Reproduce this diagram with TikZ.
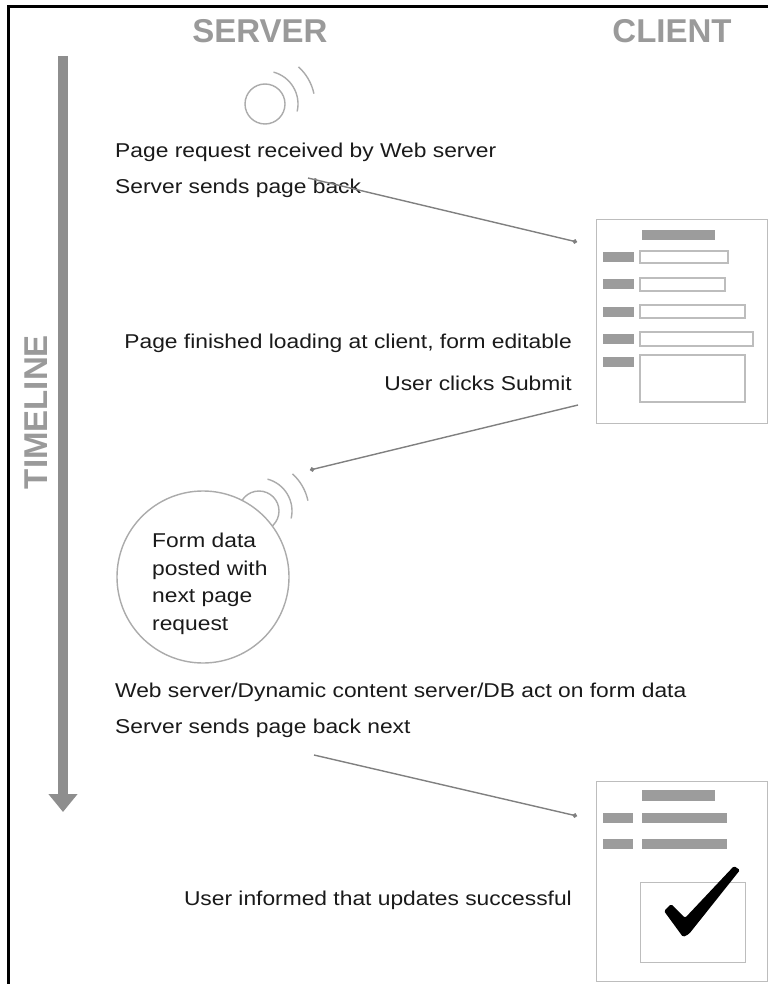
\documentclass[tikz,border=0pt]{standalone}
\usepackage{fontspec}
\setmainfont[FakeStretch=1.14]{Liberation Sans}
\newfontfamily\headfont{Liberation Sans}
\usetikzlibrary{arrows.meta}
\definecolor{txt}{HTML}{1A1A1A}
\definecolor{hgray}{HTML}{9A9A9A}
\definecolor{tgray}{HTML}{8E8E8E}
\definecolor{cgray}{HTML}{808080}
\definecolor{lgray}{HTML}{BDBDBD}
\definecolor{bgray}{HTML}{9C9C9C}
\definecolor{igray}{HTML}{ABABAB}
\tikzset{
  lbl/.style={font=\fontsize{20}{27.5}\selectfont, text=txt, inner sep=0pt},
  head/.style={font=\headfont\fontsize{33}{38}\selectfont\bfseries, text=hgray, inner sep=0pt},
  conn/.style={draw=cgray, line width=1.4pt, -{Circle[length=4.5pt]}},
  frm/.style={draw=lgray, line width=1.4pt, inner sep=0pt},
  fld/.style={draw=lgray, line width=1.3pt},
  bar/.style={fill=bgray, draw=none},
  icon/.style={draw=igray, line width=1.4pt},
  timeline/.style={draw=tgray, line width=10pt, -{Triangle[width=28pt,length=18pt]}}
}
\begin{document}
\begin{tikzpicture}[x=1pt,y=-1pt]
\useasboundingbox (0,0) rectangle (768,984);
\fill[white] (0,0) rectangle (768,984);
% frame
\draw[black, line width=3pt] (8,984) -- (8,6.5) -- (768,6.5);

% headings
\node[head] (server) at (260,31) {SERVER};
\node[head] (client) at (672,31) {CLIENT};

% timeline
\coordinate (tltop) at (63,56);
\coordinate (tlend) at (63,812);
\draw[timeline] (tltop) -- (tlend);
\node[head, rotate=90] (tl) at (36,412) {TIMELINE};

% first icon
\node[icon, circle, minimum size=40pt, inner sep=0pt] (req1) at (265,104) {};
\draw[icon] ([shift={(13:33)}]req1.center) arc[start angle=13, end angle=-75, radius=33];
\draw[icon] ([shift={(-12:50)}]req1.center) arc[start angle=-12, end angle=-48, radius=50];

% texts top
\node[lbl, anchor=base west] (t1) at (115,158) {Page request received by Web server};
\node[lbl, anchor=base west] (t2) at (115,194) {Server sends page back};

% form 1
\node[frm, anchor=north west, minimum width=171pt, minimum height=204pt] (form1) at (596,219) {};
\fill[bar] (642,230) rectangle (715,240);
\fill[bar] (603,252) rectangle (634,262);
\fill[bar] (603,279) rectangle (634,289);
\fill[bar] (603,307) rectangle (634,317);
\fill[bar] (603,334) rectangle (634,344);
\fill[bar] (603,357) rectangle (634,367);
\draw[fld] (640,251) rectangle (728,263);
\draw[fld] (640,278) rectangle (725,291);
\draw[fld] (640,305) rectangle (745,318);
\draw[fld] (640,332) rectangle (753,346);
\draw[fld] (640,355) rectangle (745,402);

\coordinate (s1) at (308,178);
\coordinate (e1) at (577,242);
\draw[conn] (s1) -- (e1);

\node[lbl, anchor=base east] (t3) at (572,348) {Page finished loading at client, form editable};
\node[lbl, anchor=base east] (t4) at (572,390) {User clicks Submit};

\coordinate (s2) at (578,405);
\coordinate (e2) at (310,470);
\draw[conn] (s2) -- (e2);

% second icon with bubble
\node[icon, circle, minimum size=40pt, inner sep=0pt] (req2) at (259,511) {};
\draw[icon] ([shift={(13:33)}]req2.center) arc[start angle=13, end angle=-75, radius=33];
\draw[icon] ([shift={(-12:50)}]req2.center) arc[start angle=-12, end angle=-48, radius=50];
\node[icon, circle, fill=white, minimum size=172pt, inner sep=0pt] (bubble) at (203,577) {};
\node[lbl, align=left, anchor=north west] (bubbletext) at (152,533) {Form data\\posted with\\next page\\request};

\node[lbl, anchor=base west] (t5) at (115,697) {Web server/Dynamic content server/DB act on form data};
\node[lbl, anchor=base west] (t6) at (115,733) {Server sends page back next};

\coordinate (s3) at (314,755);
\coordinate (e3) at (577,816);
\draw[conn] (s3) -- (e3);

% form 2
\node[frm, anchor=north west, minimum width=171pt, minimum height=200pt] (form2) at (596,781) {};
\fill[bar] (642,790) rectangle (715,801);
\fill[bar] (603,813) rectangle (633,823);
\fill[bar] (642,813) rectangle (727,823);
\fill[bar] (603,839) rectangle (633,849);
\fill[bar] (642,839) rectangle (727,849);
\node[frm, anchor=north west, minimum width=105pt, minimum height=80pt] (okbox) at (640,882) {};
\fill[black, rounded corners=1.5pt] (664,911) -- (671,904) -- (685,918) -- (734,866) -- (740,870) -- (689,934) -- (683,937) -- cycle;

\node[lbl, anchor=base east] (t7) at (572,905) {User informed that updates successful};
\end{tikzpicture}
\end{document}
